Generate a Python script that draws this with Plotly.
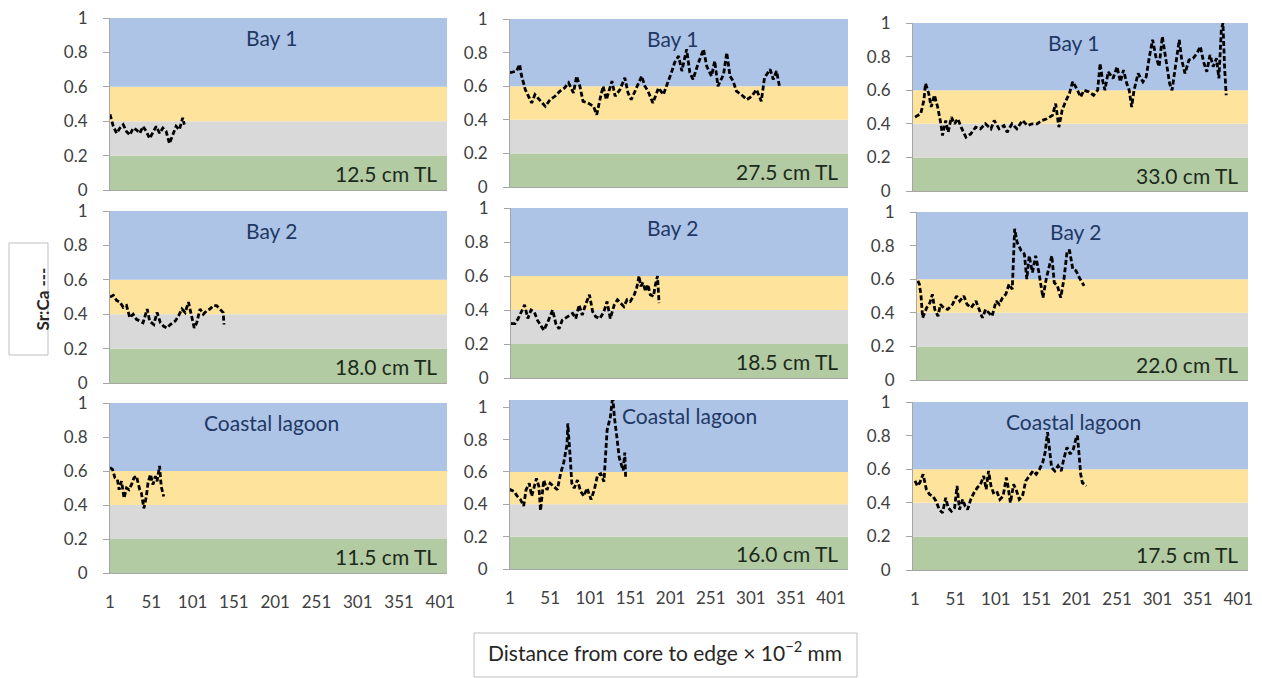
import plotly.graph_objects as go

# ---------------- data ----------------
panel_titles = ["Bay 1", "Bay 1", "Bay 1", "Bay 2", "Bay 2", "Bay 2",
                "Coastal lagoon", "Coastal lagoon", "Coastal lagoon"]
fish_sizes = ["12.5 cm TL", "27.5 cm TL", "33.0 cm TL", "18.0 cm TL", "18.5 cm TL",
              "22.0 cm TL", "11.5 cm TL", "16.0 cm TL", "17.5 cm TL"]

p1_x = [1, 5, 9, 13, 17, 21, 25, 29, 33, 37, 41, 45, 49, 53, 57, 61, 65, 69, 73, 77, 81, 85, 89, 91]
p1_y = [0.44, 0.37, 0.33, 0.36, 0.38, 0.34, 0.32, 0.36, 0.35, 0.33, 0.37, 0.34, 0.30, 0.34,
        0.37, 0.33, 0.36, 0.34, 0.27, 0.32, 0.37, 0.35, 0.42, 0.38]

p2_x = [1, 9, 13, 15, 20, 24, 28, 32, 38, 45, 51, 57, 63, 69, 74, 80, 84, 88, 92, 98, 105, 109,
        113, 117, 121, 128, 132, 138, 144, 148, 152, 159, 165, 169, 173, 179, 186, 192, 196,
        202, 206, 211, 215, 221, 225, 229, 235, 242, 246, 252, 256, 260, 267, 271, 275, 279,
        283, 289, 296, 302, 308, 314, 318, 325, 329, 333, 337]
p2_y = [0.68, 0.69, 0.73, 0.67, 0.58, 0.54, 0.50, 0.55, 0.52, 0.48, 0.52, 0.54, 0.57, 0.59,
        0.62, 0.56, 0.66, 0.60, 0.51, 0.50, 0.48, 0.43, 0.52, 0.60, 0.52, 0.63, 0.54, 0.58,
        0.65, 0.56, 0.52, 0.59, 0.66, 0.60, 0.57, 0.50, 0.59, 0.55, 0.60, 0.68, 0.74, 0.78,
        0.69, 0.82, 0.68, 0.64, 0.73, 0.82, 0.72, 0.66, 0.75, 0.60, 0.67, 0.80, 0.66, 0.63,
        0.57, 0.55, 0.52, 0.54, 0.58, 0.51, 0.65, 0.70, 0.64, 0.69, 0.59]

p3_x = [1, 4, 8, 12, 14, 18, 21, 25, 29, 33, 35, 39, 42, 46, 50, 54, 58, 64, 70, 76, 82, 88, 95,
        99, 105, 111, 115, 121, 127, 134, 140, 146, 152, 158, 164, 171, 175, 179, 183, 187,
        192, 196, 201, 206, 210, 216, 222, 227, 230, 233, 236, 240, 246, 251, 255, 259, 263,
        266, 269, 272, 277, 283, 287, 291, 295, 299, 303, 307, 312, 316, 319, 323, 328, 331,
        335, 340, 345, 350, 354, 358, 362, 366, 370, 374, 377, 380, 382, 384, 386]
p3_y = [0.44, 0.45, 0.46, 0.54, 0.64, 0.58, 0.50, 0.57, 0.50, 0.40, 0.33, 0.42, 0.35, 0.44,
        0.40, 0.43, 0.38, 0.32, 0.34, 0.38, 0.37, 0.40, 0.37, 0.42, 0.37, 0.39, 0.35, 0.40,
        0.37, 0.42, 0.39, 0.40, 0.40, 0.42, 0.43, 0.45, 0.52, 0.38, 0.48, 0.53, 0.58, 0.65,
        0.61, 0.56, 0.60, 0.59, 0.57, 0.60, 0.76, 0.66, 0.60, 0.71, 0.67, 0.74, 0.65, 0.72,
        0.64, 0.60, 0.50, 0.60, 0.70, 0.65, 0.68, 0.80, 0.90, 0.80, 0.74, 0.92, 0.76, 0.64,
        0.60, 0.74, 0.90, 0.78, 0.70, 0.78, 0.79, 0.82, 0.86, 0.77, 0.71, 0.81, 0.74, 0.79,
        0.67, 0.96, 1.00, 0.74, 0.57]

p4_x = [1, 5, 9, 13, 17, 21, 25, 29, 33, 37, 41, 46, 49, 54, 58, 62, 66, 70, 74, 80, 84, 88,
        92, 96, 100, 103, 106, 110, 114, 118, 122, 126, 130, 134, 138, 139]
p4_y = [0.50, 0.51, 0.48, 0.47, 0.44, 0.45, 0.38, 0.40, 0.37, 0.36, 0.35, 0.43, 0.36, 0.34,
        0.41, 0.35, 0.33, 0.32, 0.34, 0.36, 0.39, 0.43, 0.41, 0.47, 0.38, 0.32, 0.35, 0.43,
        0.40, 0.42, 0.43, 0.45, 0.45, 0.43, 0.41, 0.34]

p5_x = [1, 6, 10, 13, 18, 22, 26, 30, 34, 38, 42, 47, 53, 57, 61, 65, 72, 78, 82, 86, 90, 94,
        99, 103, 107, 112, 117, 121, 125, 130, 134, 138, 142, 146, 150, 155, 158, 161, 163,
        166, 169, 172, 175, 179, 181, 184, 186]
p5_y = [0.32, 0.32, 0.35, 0.38, 0.43, 0.35, 0.40, 0.39, 0.34, 0.31, 0.28, 0.33, 0.40, 0.32,
        0.29, 0.34, 0.36, 0.38, 0.35, 0.43, 0.37, 0.43, 0.49, 0.39, 0.36, 0.35, 0.39, 0.45,
        0.35, 0.43, 0.46, 0.44, 0.42, 0.46, 0.45, 0.49, 0.53, 0.60, 0.54, 0.56, 0.51, 0.55,
        0.49, 0.48, 0.54, 0.60, 0.44]

p6_x = [1, 3, 5, 7, 12, 16, 19, 22, 26, 29, 33, 38, 44, 49, 53, 58, 62, 67, 73, 77, 81, 85,
        89, 93, 98, 102, 106, 110, 114, 118, 121, 124, 129, 133, 136, 139, 143, 147, 151, 156,
        160, 164, 167, 170, 174, 178, 182, 186, 189, 193, 197, 201, 207]
p6_y = [0.59, 0.57, 0.50, 0.37, 0.43, 0.46, 0.51, 0.42, 0.38, 0.45, 0.43, 0.42, 0.45, 0.50,
        0.47, 0.50, 0.45, 0.43, 0.47, 0.42, 0.37, 0.42, 0.40, 0.38, 0.47, 0.45, 0.49, 0.51,
        0.57, 0.54, 0.90, 0.82, 0.77, 0.75, 0.60, 0.74, 0.64, 0.74, 0.64, 0.49, 0.60, 0.69,
        0.74, 0.58, 0.56, 0.49, 0.60, 0.77, 0.77, 0.66, 0.65, 0.61, 0.56]

p7_x = [1, 4, 7, 10, 12, 15, 18, 21, 24, 27, 30, 33, 37, 39, 42, 45, 47, 50, 53, 56, 58, 61, 63, 66]
p7_y = [0.62, 0.61, 0.56, 0.55, 0.49, 0.54, 0.44, 0.50, 0.49, 0.52, 0.56, 0.57, 0.49, 0.47,
        0.38, 0.45, 0.53, 0.58, 0.52, 0.57, 0.54, 0.63, 0.51, 0.45]

p8_x = [1, 2, 6, 10, 14, 18, 21, 25, 28, 31, 34, 37, 39, 43, 47, 51, 55, 60, 64, 68, 72, 73,
        76, 78, 81, 85, 89, 93, 97, 102, 106, 110, 114, 118, 122, 126, 129, 131, 134, 137,
        140, 142, 144, 145]
p8_y = [0.48, 0.49, 0.48, 0.45, 0.43, 0.39, 0.49, 0.53, 0.45, 0.51, 0.56, 0.51, 0.36, 0.55,
        0.49, 0.53, 0.51, 0.49, 0.59, 0.66, 0.77, 0.90, 0.69, 0.53, 0.50, 0.55, 0.48, 0.45,
        0.50, 0.43, 0.49, 0.58, 0.59, 0.54, 0.86, 0.94, 1.07, 0.94, 0.82, 0.69, 0.64, 0.61,
        0.72, 0.57]

p9_x = [1, 4, 7, 11, 15, 19, 23, 27, 31, 35, 39, 42, 46, 50, 53, 56, 60, 63, 66, 70, 74, 78,
        82, 86, 89, 92, 95, 98, 102, 106, 110, 114, 116, 119, 123, 126, 130, 134, 138, 142,
        147, 151, 155, 159, 162, 165, 167, 170, 174, 178, 182, 185, 189, 193, 197, 200, 202,
        204, 206, 208, 213]
p9_y = [0.53, 0.50, 0.52, 0.57, 0.48, 0.45, 0.44, 0.41, 0.36, 0.34, 0.43, 0.37, 0.35, 0.37,
        0.50, 0.36, 0.42, 0.38, 0.36, 0.42, 0.46, 0.49, 0.51, 0.56, 0.48, 0.59, 0.50, 0.46,
        0.47, 0.42, 0.44, 0.55, 0.50, 0.40, 0.51, 0.48, 0.42, 0.44, 0.53, 0.56, 0.59, 0.57,
        0.60, 0.64, 0.70, 0.82, 0.72, 0.61, 0.59, 0.62, 0.59, 0.66, 0.73, 0.69, 0.72, 0.78,
        0.80, 0.69, 0.57, 0.52, 0.50]

series_x = [p1_x, p2_x, p3_x, p4_x, p5_x, p6_x, p7_x, p8_x, p9_x]
series_y = [p1_y, p2_y, p3_y, p4_y, p5_y, p6_y, p7_y, p8_y, p9_y]

band_edges = [0.0, 0.2, 0.4, 0.6, 1.0]
band_colors = ["#b3cba3", "#d9d9d9", "#fde39b", "#adc4e6"]

y_ticks = [0, 0.2, 0.4, 0.6, 0.8, 1]
y_tick_labels = ["0", "0.2", "0.4", "0.6", "0.8", "1"]
x_ticks = [1, 51, 101, 151, 201, 251, 301, 351, 401]
x_tick_labels = [str(v) for v in x_ticks]

# ---------------- layout geometry (page pixels) ----------------
W, H = 1262, 678


def px(xp):
    return xp / W


def py(yp):
    return 1 - yp / H


boxes = [  # (left, right, top, bottom) in page pixels
    (110, 447, 18, 190), (510, 848, 19, 187), (913, 1248, 23, 191),
    (110, 447, 211, 383), (511, 848, 208, 378), (917, 1248, 212, 380),
    (110, 447, 403, 573), (510, 848, 400, 569), (913, 1248, 402, 570),
]
x_ranges = [[1, 409], [1, 422], [-1.5, 413],
            [1, 409], [1, 422], [0, 410],
            [1, 409], [1, 422], [-1.5, 413]]
y_tops = [1, 1, 1, 1, 1, 1, 1, 1.045, 1]

fig = go.Figure()
layout = dict(width=W, height=H, margin=dict(l=0, r=0, t=0, b=0, autoexpand=False),
              paper_bgcolor="white", plot_bgcolor="white", showlegend=False,
              font=dict(family="Lato, 'Open Sans', sans-serif", color="#404040"))
shapes = []
annotations = []

for i in range(9):
    n = i + 1
    sfx = "" if n == 1 else str(n)
    L, R, T, B = boxes[i]
    ytop = y_tops[i]
    fig.add_trace(go.Scatter(
        x=series_x[i], y=series_y[i], mode="lines",
        line=dict(color="black", width=2.8, dash="5px,2.5px"),
        xaxis="x" + sfx, yaxis="y" + sfx, hoverinfo="skip"))
    bottom_row = i >= 6
    layout["xaxis" + sfx] = dict(
        domain=[px(L), px(R)], range=x_ranges[i], anchor="y" + sfx,
        showgrid=False, zeroline=False, showline=True, linecolor="#a6a6a6", linewidth=1,
        tickmode="array", tickvals=x_ticks, ticktext=x_tick_labels,
        showticklabels=bottom_row, ticks="", ticklabelstandoff=14,
        tickfont=dict(size=17, color="#404040"))
    layout["yaxis" + sfx] = dict(
        domain=[py(B), py(T)], range=[0, ytop], anchor="x" + sfx,
        showgrid=False, zeroline=False, showline=True, linecolor="#a6a6a6", linewidth=1,
        tickmode="array", tickvals=y_ticks, ticktext=y_tick_labels,
        ticks="outside", ticklen=6, tickcolor="#a6a6a6", ticklabelstandoff=12,
        ticklabeloverflow="allow", tickfont=dict(size=17, color="#404040"))
    for k in range(4):
        top = band_edges[k + 1] if k < 3 else ytop
        shapes.append(dict(type="rect", xref="x" + sfx + " domain", yref="y" + sfx,
                           x0=0, x1=1, y0=band_edges[k], y1=top,
                           fillcolor=band_colors[k], line=dict(width=0), layer="below"))
    annotations.append(dict(text=panel_titles[i], xref="x" + sfx + " domain", yref="y" + sfx,
                            x=0.48 if i != 7 else 0.53, y=0.885 if i != 7 else 0.95,
                            showarrow=False, xanchor="center", yanchor="middle",
                            font=dict(size=21, color="#1f3864")))
    annotations.append(dict(text=fish_sizes[i], xref="x" + sfx + " domain", yref="y" + sfx,
                            x=0.975, y=0.095, showarrow=False, xanchor="right", yanchor="middle",
                            font=dict(size=21, color="#1b2a1b")))

# y-axis label box
shapes.append(dict(type="rect", xref="paper", yref="paper",
                   x0=px(9), x1=px(48), y0=py(355), y1=py(243),
                   line=dict(color="#bfbfbf", width=1), fillcolor="white"))
annotations.append(dict(text="<b>Sr:Ca ---</b>", xref="paper", yref="paper",
                        x=px(29), y=py(299), textangle=-90, showarrow=False,
                        font=dict(size=17, color="#262626")))
# x-axis label box
shapes.append(dict(type="rect", xref="paper", yref="paper",
                   x0=px(474), x1=px(857), y0=py(677), y1=py(633),
                   line=dict(color="#bfbfbf", width=1), fillcolor="white"))
annotations.append(dict(text="Distance from core to edge \u00d7 10<sup>\u22122</sup> mm",
                        xref="paper", yref="paper", x=px(665), y=py(667),
                        showarrow=False, font=dict(size=21, color="#262626")))

layout["shapes"] = shapes
layout["annotations"] = annotations
fig.update_layout(**layout)
fig.write_html("out.html")
